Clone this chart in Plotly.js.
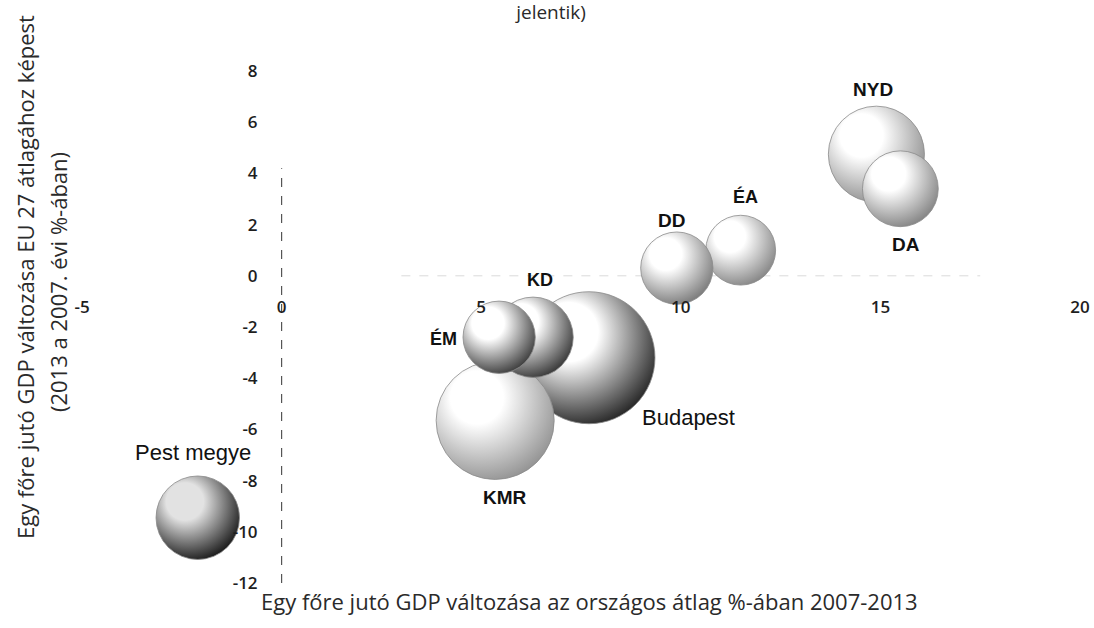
<!DOCTYPE html>
<html>
<head>
<meta charset="utf-8">
<script src="https://cdn.plot.ly/plotly-3.0.1.min.js"></script>
<style>html,body{margin:0;padding:0;background:#fff;}#chart{width:1094px;height:628px;}</style>
</head>
<body>
<div id="chart"></div>
<script>
// ---- data ----
const regions   = ['Budapest', 'KMR', 'KD', 'ÉM', 'Pest megye', 'ÉA', 'DD', 'NYD', 'DA'];
const gdpChangeNational = [7.7, 5.35, 6.3, 5.45, -2.1, 11.5, 9.9, 14.9, 15.5];   // x
const gdpChangeEU27     = [-3.2, -5.65, -2.4, -2.4, -9.45, 1.0, 0.3, 4.75, 3.4]; // y
const bubbleValue       = [100, 80, 37, 30, 40, 28, 30, 53, 33];                  // bubble size
const xTicks = [-5, 0, 5, 10, 15, 20];
const yTicks = [-12, -10, -8, -6, -4, -2, 0, 2, 4, 6, 8];

// ---- styles ----
const edgeColors   = ['#1c1c1c', '#8e8e8e', '#2e2e2e', '#333333', '#101010', '#808080', '#747474', '#8a8a8a', '#7e7e7e'];
const centerColors = ['#ffffff', '#ffffff', '#ffffff', '#ffffff', '#e2e2e2', '#ffffff', '#ffffff', '#ffffff', '#ffffff'];
const labelShiftX  = [100, 10, 7, -56, -5, 5, -5, -3, 6];
const labelShiftY  = [-60, -77, 57, -1, 65, 54, 48, 65, -56];
const labelSize    = [22, 19, 18, 18, 22, 18, 19, 19, 19];
const labelBold    = [false, true, true, true, false, true, true, true, true];
const maxRadiusPx = 66;
const sizeref = Math.max(...bubbleValue) / (2 * maxRadiusPx * maxRadiusPx);

const trace = {
  type: 'scatter',
  mode: 'markers',
  x: gdpChangeNational,
  y: gdpChangeEU27,
  text: regions,
  hoverinfo: 'text',
  marker: {
    size: bubbleValue,
    sizemode: 'area',
    sizeref: sizeref,
    color: edgeColors,
    opacity: 1,
    gradient: { type: 'radial', color: centerColors },
    line: { color: '#8a8a8a', width: 0.8 }
  },
  showlegend: false
};

const labelAnnotations = regions.map((name, i) => ({
  x: gdpChangeNational[i], y: gdpChangeEU27[i], xref: 'x', yref: 'y',
  text: labelBold[i] ? '<b>' + name + '</b>' : name,
  showarrow: false, xanchor: 'center', yanchor: 'middle',
  xshift: labelShiftX[i], yshift: labelShiftY[i],
  font: { family: 'Liberation Sans, Arial, sans-serif', size: labelSize[i], color: '#111' }
}));

const titleFont = { family: 'Open Sans, DejaVu Sans, sans-serif', size: 22, color: '#2a2a2a' };

const layout = {
  width: 1094, height: 628,
  margin: { l: 82, r: 14, t: 71, b: 45 },
  paper_bgcolor: '#ffffff', plot_bgcolor: '#ffffff',
  title: {
    text: 'jelentik)',
    x: 0.47, xref: 'paper', xanchor: 'center',
    y: 0.981, yref: 'container', yanchor: 'middle',
    font: { family: 'Open Sans, DejaVu Sans, sans-serif', size: 19, color: '#2a2a2a' }
  },
  xaxis: {
    range: [-5, 20], tickvals: xTicks, ticktext: xTicks.map(String),
    anchor: 'free', position: 0.6,
    showgrid: false, zeroline: false, showline: false, ticks: '',
    ticklabelstandoff: 19,
    tickfont: { family: 'Open Sans, DejaVu Sans, sans-serif', size: 17, color: '#1e1e1e', weight: 600 }
  },
  yaxis: {
    range: [-12, 8], tickvals: yTicks, ticktext: yTicks.map(String),
    anchor: 'free', position: 0.2,
    showgrid: false, zeroline: false, showline: false, ticks: '',
    ticklabelstandoff: 24,
    tickfont: { family: 'Open Sans, DejaVu Sans, sans-serif', size: 17, color: '#1e1e1e', weight: 600 }
  },
  shapes: [
    { type: 'line', xref: 'x', yref: 'paper', x0: 0, x1: 0, y0: 0, y1: 0.81,
      line: { color: '#555', width: 1.2, dash: 'dash' }, layer: 'below' },
    { type: 'line', xref: 'paper', yref: 'y', x0: 0.32, x1: 0.9, y0: 0, y1: 0,
      line: { color: '#dadada', width: 1, dash: 'dash' }, layer: 'below' }
  ],
  annotations: labelAnnotations.concat([
    { text: 'Egy főre jutó GDP változása az országos átlag %-ában 2007-2013',
      xref: 'paper', yref: 'paper', x: 0.509, y: -0.035, xanchor: 'center', yanchor: 'middle',
      showarrow: false, font: titleFont },
    { text: 'Egy főre jutó GDP változása EU 27 átlagához képest',
      xref: 'paper', yref: 'paper', x: -0.057, y: 0.598, xanchor: 'center', yanchor: 'middle',
      textangle: -90, showarrow: false, font: titleFont },
    { text: '(2013 a 2007. évi %-ában)',
      xref: 'paper', yref: 'paper', x: -0.024, y: 0.588, xanchor: 'center', yanchor: 'middle',
      textangle: -90, showarrow: false, font: titleFont }
  ]),
  hovermode: false
};

Plotly.newPlot('chart', [trace], layout, { displayModeBar: false, staticPlot: true }).then(() => {
  // shift the highlight of each radial gradient to the upper left, like a lit sphere
  const NS = 'http://www.w3.org/2000/svg';
  document.querySelectorAll('#chart radialGradient').forEach(g => {
    g.setAttribute('cx', '0.40');
    g.setAttribute('cy', '0.36');
    g.setAttribute('r', '0.70');
    g.setAttribute('fx', '0.32');
    g.setAttribute('fy', '0.28');
    const stops = g.querySelectorAll('stop');
    if (stops.length >= 2) {
      const first = stops[0];
      const extra = document.createElementNS(NS, 'stop');
      extra.setAttribute('offset', '32%');
      extra.setAttribute('stop-color', first.getAttribute('stop-color'));
      if (first.getAttribute('stop-opacity')) extra.setAttribute('stop-opacity', first.getAttribute('stop-opacity'));
      first.parentNode.insertBefore(extra, first.nextSibling);
    }
  });
});
</script>
</body>
</html>
